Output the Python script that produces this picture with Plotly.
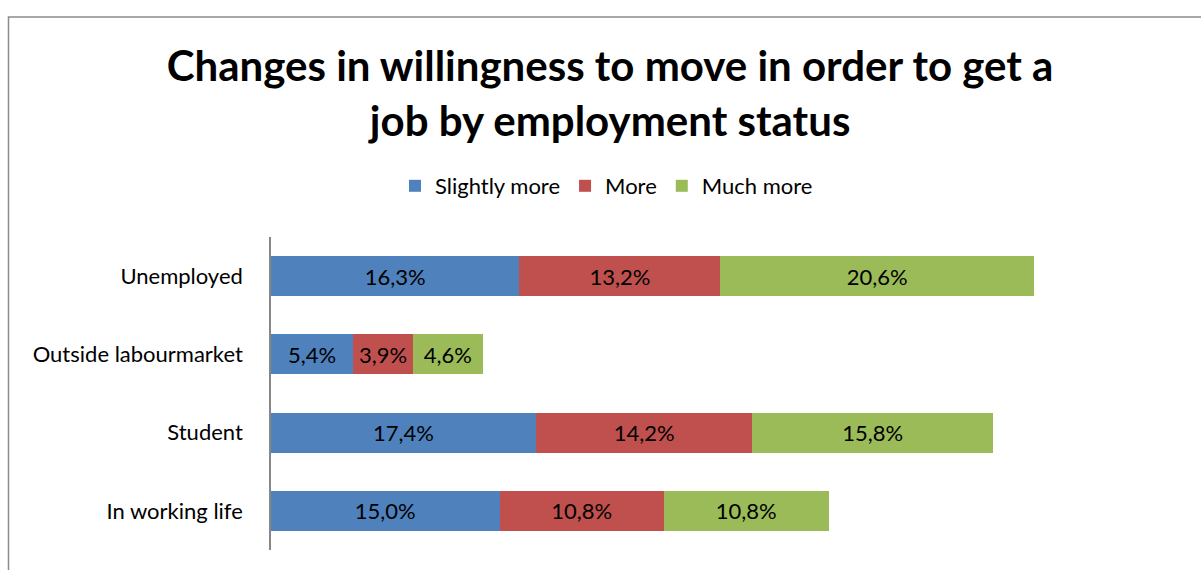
import plotly.graph_objects as go

categories = ["In working life", "Student", "Outside labourmarket", "Unemployed"]
slightly_more = [15.0, 17.4, 5.4, 16.3]
more = [10.8, 14.2, 3.9, 13.2]
much_more = [10.8, 15.8, 4.6, 20.6]
series_names = ["Slightly more", "More", "Much more"]
colors = ["#4F81BD", "#C0504D", "#9BBB59"]

FONT = "Lato, 'Open Sans', sans-serif"

def fmt(vals):
    return [f"{v:.1f}%".replace(".", ",") for v in vals]

fig = go.Figure()
for name, vals, col in zip(series_names, [slightly_more, more, much_more], colors):
    fig.add_trace(go.Bar(
        y=categories, x=vals, name=name, orientation="h",
        marker=dict(color=col, line=dict(width=0)),
        text=fmt(vals), textposition="inside", insidetextanchor="middle",
        textfont=dict(family=FONT, size=22, color="black"),
        width=0.51,
    ))

W, H = 1201, 570
L, R, T, B = 271, 16, 237, 20
pw = W - L - R
ph = H - T - B

def px_x(p):
    return (p - L) / pw

def px_y(p):
    return 1 - (p - T) / ph

fig.update_layout(
    width=W, height=H,
    margin=dict(l=L, r=R, t=T, b=B),
    barmode="stack",
    paper_bgcolor="white", plot_bgcolor="white",
    title=dict(
        text="<b>Changes in willingness to move in order to get a<br>job by employment status</b>",
        x=0.508, xanchor="center", xref="container",
        y=1 - 81 / H, yanchor="middle", yref="container",
        font=dict(family=FONT, size=42, color="black"),
    ),
    legend=dict(
        orientation="h", x=0.505, xanchor="center", xref="container",
        y=1 - 186 / H, yanchor="middle", yref="container",
        font=dict(family=FONT, size=22, color="black"),
        itemsizing="constant", traceorder="normal",
    ),
    xaxis=dict(range=[0, 60], visible=False, showgrid=False, zeroline=False, fixedrange=True),
    yaxis=dict(
        showline=True, linecolor="#878787", linewidth=1.5,
        showgrid=False, zeroline=False, ticks="",
        ticklabelstandoff=22,
        tickfont=dict(family=FONT, size=22, color="black"),
        range=[-0.5, 3.5],
    ),
    shapes=[dict(
        type="rect", xref="paper", yref="paper",
        x0=px_x(8.5), x1=px_x(1220), y0=px_y(600), y1=px_y(17),
        line=dict(color="#8c8c8c", width=1.5), fillcolor="rgba(0,0,0,0)", layer="below",
    )],
)

fig.write_html("out.html")
